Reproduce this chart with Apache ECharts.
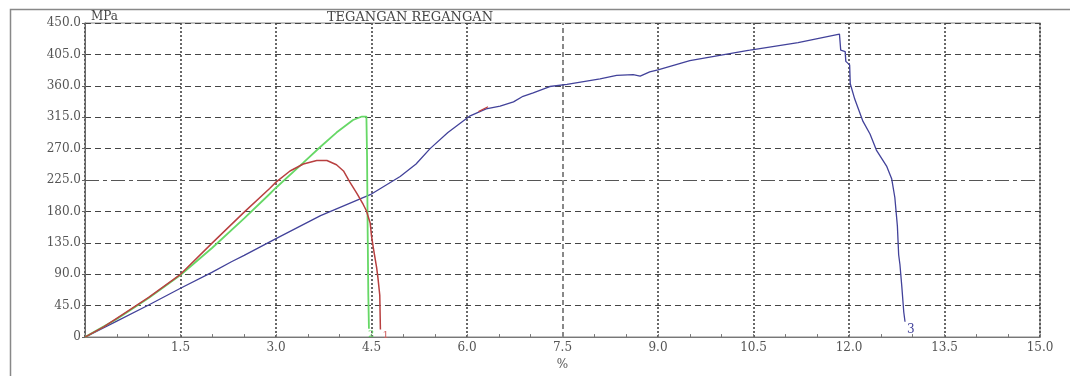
<!DOCTYPE html>
<html>
<head>
<meta charset="utf-8">
<script src="https://cdn.jsdelivr.net/npm/echarts@6/dist/echarts.min.js"></script>
<style>html,body{margin:0;padding:0;background:#fff}#c{width:1070px;height:376px}</style>
</head>
<body>
<div id="c"></div>
<script>
// Strain (%) and stress (MPa)
const blueStrain = [0,0.5,1.0,1.5,2.0,2.3,2.5,3.0,3.7,4.48,4.95,5.2,5.42,5.7,6.05,6.3,6.52,6.73,6.88,7.04,7.3,7.57,8.09,8.35,8.61,8.72,8.87,9.0,9.5,10.44,10.5,11.2,11.85,11.87,11.94,11.95,12.01,12.02,12.09,12.22,12.33,12.43,12.59,12.67,12.72,12.76,12.78,12.8,12.83,12.86,12.88];
const blueStress = [0,23,46,70,93,108,117,141,174,204,230,248,270,293,317,327,331,337,345,350,359,362,370,375,376,374,380,383,396,411,412,422,434,411,409,395,390,363,341,309,291,268,245,227,200,159,118,104,72,36,22];

const redStrain = [0,0.3,0.6,1.0,1.5,2.0,2.5,2.9,3.0,3.22,3.43,3.64,3.8,3.95,4.06,4.16,4.27,4.37,4.42,4.45,4.48,4.5,4.53,4.58,4.6,4.63,4.64];
const redStress = [0,15,33,57,90,135,179,213,222,238,248,253,253,247,238,222,206,190,181,172,163,145,127,100,86,60,11];

const greenStrain = [0,0.5,1.0,1.5,2.0,2.5,2.9,3.0,3.43,3.69,3.95,4.21,4.35,4.42,4.43,4.44,4.45,4.46];
const greenStress = [0,26,56,89,128,170,205,214,250,272,293,311,316,316,260,150,60,12];

const redMarkStrain = [6.18,6.33];
const redMarkStress = [323,330];

const xTicks = {min:0, max:15, interval:1.5};
const yTicks = {min:0, max:450, interval:45};

const zip = (a,b) => a.map((v,i)=>[v,b[i]]);
const serif = 'DejaVu Serif';
const gridCol = (n, skip) => Array.from({length:n},(_,i)=> i===skip ? 'rgba(0,0,0,0)' : '#444');

const chart = echarts.init(document.getElementById('c'));
chart.setOption({
  animation:false,
  backgroundColor:'#fff',
  title:{text:'TEGANGAN REGANGAN', left:410, top:11, padding:0, textAlign:'center',
    textStyle:{fontFamily:serif, fontSize:13, fontWeight:'normal', color:'#444'}},
  graphic:[{type:'rect', silent:true, z:-1, shape:{x:10.5,y:9.5,width:1200,height:500},
    style:{fill:'none', stroke:'#888', lineWidth:1.5}}],
  grid:{left:85, right:30, top:23, bottom:23, show:true, borderColor:'#888', borderWidth:1.2},
  xAxis:{type:'value', min:xTicks.min, max:xTicks.max, interval:xTicks.interval,
    name:'%', nameLocation:'middle', nameGap:14,
    nameTextStyle:{fontFamily:serif, fontSize:12, color:'#555'},
    axisLine:{show:true, onZero:false, lineStyle:{color:'#777'}},
    axisTick:{show:true, length:3, inside:true, lineStyle:{color:'#777'}},
    minorTick:{show:true, splitNumber:3, length:3, lineStyle:{color:'#777'}},
    axisLabel:{fontFamily:serif, fontSize:12, color:'#555', margin:5,
      formatter:v=> v===0 ? '' : v.toFixed(1)},
    splitLine:{show:true, lineStyle:{color:gridCol(11,5), width:1.6, type:[2,2]}}
  },
  yAxis:{type:'value', min:yTicks.min, max:yTicks.max, interval:yTicks.interval,
    name:'MPa', nameLocation:'end', nameGap:0,
    nameTextStyle:{fontFamily:serif, fontSize:12, color:'#444', align:'left', padding:[0,0,0,6]},
    axisLine:{show:true, lineStyle:{color:'#666'}},
    axisTick:{show:true, length:3, lineStyle:{color:'#666'}},
    axisLabel:{fontFamily:serif, fontSize:12, color:'#555', margin:4,
      formatter:v=> v===0 ? '0' : v.toFixed(1)},
    splitLine:{show:true, lineStyle:{color:gridCol(11,5), width:1, type:[6,4]}}
  },
  series:[
    {name:'3', type:'line', data:zip(blueStrain,blueStress), showSymbol:false, symbol:'none',
      lineStyle:{color:'#42429a', width:1.3}, z:3,
      endLabel:{show:true, formatter:'3', color:'#42429a', fontFamily:serif, fontSize:12, offset:[0,8], distance:2},
      markLine:{silent:true, symbol:'none', label:{show:false}, z:1,
        data:[
          {yAxis:225, lineStyle:{color:'#555', width:1.2, type:[14,4,4,4]}},
          {xAxis:7.5, lineStyle:{color:'#888', width:2, type:[5,3]}}
        ]}},
    {name:'2', type:'line', data:zip(greenStrain,greenStress), showSymbol:false, symbol:'none',
      lineStyle:{color:'#66d866', width:1.8}, z:4,
      endLabel:{show:true, formatter:'2', color:'#66d866', fontFamily:serif, fontSize:10, offset:[-2,6], distance:1}},
    {name:'1', type:'line', data:zip(redStrain,redStress), showSymbol:false, symbol:'none',
      lineStyle:{color:'#b84040', width:1.5}, z:5,
      endLabel:{show:true, formatter:'1', color:'#d06060', fontFamily:serif, fontSize:10, offset:[0,6], distance:2}},
    {name:'mark', type:'line', data:zip(redMarkStrain,redMarkStress), showSymbol:false, symbol:'none',
      lineStyle:{color:'#c04040', width:1.2}, z:6}
  ]
});
</script>
</body>
</html>
